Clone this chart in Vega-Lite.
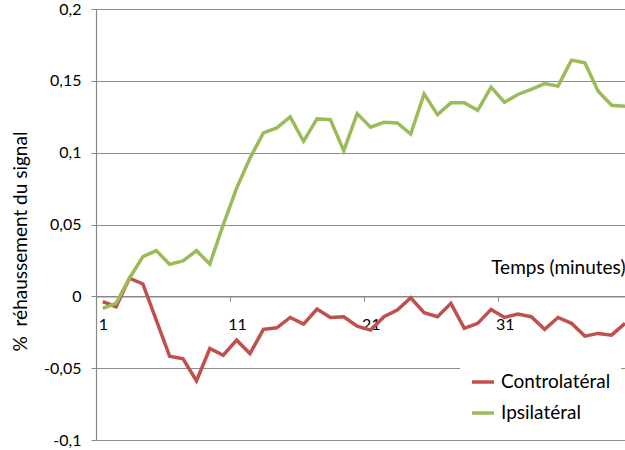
{
  "$schema": "https://vega.github.io/schema/vega-lite/v6.json",
  "width": 529,
  "height": 431,
  "autosize": "none",
  "padding": {"left": 96, "top": 9, "right": 0, "bottom": 10},
  "config": {"view": {"stroke": null}, "font": "Lato"},
  "data": {"values": [
    {"t":1,"serie":"Controlatéral","v":-0.0037},{"t":2,"serie":"Controlatéral","v":-0.0072},{"t":3,"serie":"Controlatéral","v":0.0126},{"t":4,"serie":"Controlatéral","v":0.0086},{"t":5,"serie":"Controlatéral","v":-0.0165},
    {"t":6,"serie":"Controlatéral","v":-0.0417},{"t":7,"serie":"Controlatéral","v":-0.0435},{"t":8,"serie":"Controlatéral","v":-0.0589},{"t":9,"serie":"Controlatéral","v":-0.0363},{"t":10,"serie":"Controlatéral","v":-0.041},
    {"t":11,"serie":"Controlatéral","v":-0.0305},{"t":12,"serie":"Controlatéral","v":-0.0398},{"t":13,"serie":"Controlatéral","v":-0.023},{"t":14,"serie":"Controlatéral","v":-0.0219},{"t":15,"serie":"Controlatéral","v":-0.0147},
    {"t":16,"serie":"Controlatéral","v":-0.0193},{"t":17,"serie":"Controlatéral","v":-0.0089},{"t":18,"serie":"Controlatéral","v":-0.0147},{"t":19,"serie":"Controlatéral","v":-0.0142},{"t":20,"serie":"Controlatéral","v":-0.0207},
    {"t":21,"serie":"Controlatéral","v":-0.0235},{"t":22,"serie":"Controlatéral","v":-0.0142},{"t":23,"serie":"Controlatéral","v":-0.0096},{"t":24,"serie":"Controlatéral","v":-0.001},{"t":25,"serie":"Controlatéral","v":-0.0114},
    {"t":26,"serie":"Controlatéral","v":-0.0142},{"t":27,"serie":"Controlatéral","v":-0.0049},{"t":28,"serie":"Controlatéral","v":-0.0223},{"t":29,"serie":"Controlatéral","v":-0.0188},{"t":30,"serie":"Controlatéral","v":-0.0091},
    {"t":31,"serie":"Controlatéral","v":-0.0147},{"t":32,"serie":"Controlatéral","v":-0.0123},{"t":33,"serie":"Controlatéral","v":-0.0142},{"t":34,"serie":"Controlatéral","v":-0.023},{"t":35,"serie":"Controlatéral","v":-0.0147},
    {"t":36,"serie":"Controlatéral","v":-0.0188},{"t":37,"serie":"Controlatéral","v":-0.0277},{"t":38,"serie":"Controlatéral","v":-0.0258},{"t":39,"serie":"Controlatéral","v":-0.027},{"t":40,"serie":"Controlatéral","v":-0.0188},
    {"t":1,"serie":"Ipsilatéral","v":-0.0084},{"t":2,"serie":"Ipsilatéral","v":-0.0049},{"t":3,"serie":"Ipsilatéral","v":0.0126},{"t":4,"serie":"Ipsilatéral","v":0.0276},{"t":5,"serie":"Ipsilatéral","v":0.0318},
    {"t":6,"serie":"Ipsilatéral","v":0.0223},{"t":7,"serie":"Ipsilatéral","v":0.0246},{"t":8,"serie":"Ipsilatéral","v":0.0318},{"t":9,"serie":"Ipsilatéral","v":0.0225},{"t":10,"serie":"Ipsilatéral","v":0.0497},
    {"t":11,"serie":"Ipsilatéral","v":0.0753},{"t":12,"serie":"Ipsilatéral","v":0.0963},{"t":13,"serie":"Ipsilatéral","v":0.1137},{"t":14,"serie":"Ipsilatéral","v":0.1172},{"t":15,"serie":"Ipsilatéral","v":0.1249},
    {"t":16,"serie":"Ipsilatéral","v":0.1079},{"t":17,"serie":"Ipsilatéral","v":0.1235},{"t":18,"serie":"Ipsilatéral","v":0.123},{"t":19,"serie":"Ipsilatéral","v":0.1014},{"t":20,"serie":"Ipsilatéral","v":0.1272},
    {"t":21,"serie":"Ipsilatéral","v":0.1177},{"t":22,"serie":"Ipsilatéral","v":0.1211},{"t":23,"serie":"Ipsilatéral","v":0.1207},{"t":24,"serie":"Ipsilatéral","v":0.113},{"t":25,"serie":"Ipsilatéral","v":0.1409},
    {"t":26,"serie":"Ipsilatéral","v":0.1265},{"t":27,"serie":"Ipsilatéral","v":0.1347},{"t":28,"serie":"Ipsilatéral","v":0.1347},{"t":29,"serie":"Ipsilatéral","v":0.1295},{"t":30,"serie":"Ipsilatéral","v":0.1456},
    {"t":31,"serie":"Ipsilatéral","v":0.1351},{"t":32,"serie":"Ipsilatéral","v":0.1405},{"t":33,"serie":"Ipsilatéral","v":0.144},{"t":34,"serie":"Ipsilatéral","v":0.1481},{"t":35,"serie":"Ipsilatéral","v":0.1463},
    {"t":36,"serie":"Ipsilatéral","v":0.1644},{"t":37,"serie":"Ipsilatéral","v":0.1626},{"t":38,"serie":"Ipsilatéral","v":0.1428},{"t":39,"serie":"Ipsilatéral","v":0.133},{"t":40,"serie":"Ipsilatéral","v":0.1323}
  ]},
  "mark": {"type": "line", "strokeWidth": 3.5, "clip": false},
  "encoding": {
    "x": {
      "field": "t", "type": "quantitative",
      "scale": {"domain": [0.5, 40], "nice": false, "zero": false},
      "axis": {
        "orient": "bottom", "offset": -143.67,
        "values": [0.5, 10.5, 20.5, 30.5],
        "labelExpr": "'' + (datum.value + 0.5)",
        "labelAlign": "center", "labelOffset": 7, "labelPadding": 15, "labelFlush": false, "labelOverlap": false,
        "labelFontSize": 16, "labelColor": "#000000",
        "tickSize": 5, "tickColor": "#888888", "domainColor": "#888888", "domainWidth": 1.2,
        "grid": false,
        "title": "Temps (minutes)", "titleX": 529, "titleY": -29,
        "titleAlign": "right", "titleBaseline": "middle", "titleAnchor": null,
        "titleFontSize": 19, "titleFontWeight": "normal", "titleColor": "#000000"
      }
    },
    "y": {
      "field": "v", "type": "quantitative",
      "scale": {"domain": [-0.1, 0.2], "nice": false, "zero": false},
      "axis": {
        "values": [-0.1, -0.05, 0, 0.05, 0.1, 0.15, 0.2],
        "labelExpr": "replace(replace(format(datum.value, '~g'), '.', ','), '\u2212', '-')",
        "labelFontSize": 16, "labelColor": "#000000", "labelPadding": 10, "labelDy": 2,
        "tickSize": 5, "tickColor": "#888888", "domainColor": "#888888", "domainWidth": 1.2,
        "grid": true, "gridColor": "#8c8c8c", "gridWidth": 1.2,
        "title": "%\u00a0 réhaussement du signal", "titleX": -76, "titleY": 232,
        "titleAngle": -90, "titleAlign": "center", "titleBaseline": "middle",
        "titleFontSize": 19, "titleFontWeight": "normal", "titleColor": "#000000"
      }
    },
    "color": {
      "field": "serie", "type": "nominal",
      "scale": {"domain": ["Controlatéral", "Ipsilatéral"], "range": ["#C0504D", "#9BBB59"]},
      "legend": {
        "orient": "none", "legendX": 364, "legendY": 350, "title": null,
        "padding": 10, "fillColor": "#ffffff",
        "symbolType": "stroke", "symbolSize": 484, "symbolStrokeWidth": 3.5,
        "labelFontSize": 19, "labelOffset": 5, "rowPadding": 8, "labelColor": "#000000"
      }
    }
  }
}
